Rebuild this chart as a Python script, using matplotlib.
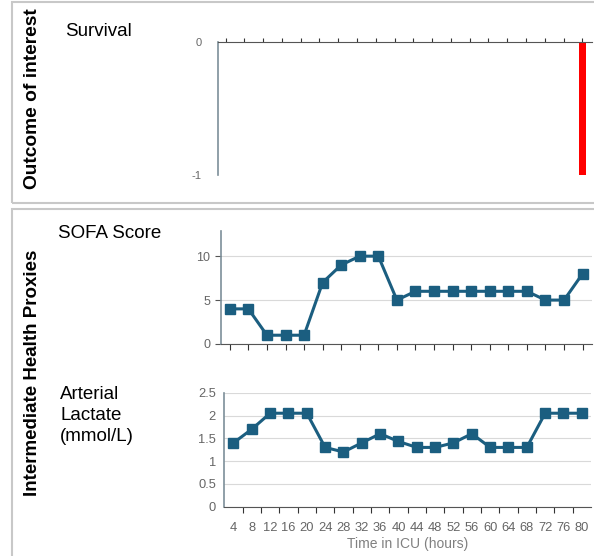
import matplotlib
matplotlib.use('Agg')
import matplotlib.pyplot as plt
from matplotlib.patches import Rectangle

plt.rcParams['font.family'] = ['Liberation Sans', 'DejaVu Sans']

hours = [4, 8, 12, 16, 20, 24, 28, 32, 36, 40, 44, 48, 52, 56, 60, 64, 68, 72, 76, 80]
survival = [0, 0, 0, 0, 0, 0, 0, 0, 0, 0, 0, 0, 0, 0, 0, 0, 0, 0, 0, -1]
sofa = [4, 4, 1, 1, 1, 7, 9, 10, 10, 5, 6, 6, 6, 6, 6, 6, 6, 5, 5, 8]
lactate = [1.4, 1.7, 2.05, 2.05, 2.05, 1.3, 1.2, 1.4, 1.6, 1.43,
           1.3, 1.3, 1.4, 1.6, 1.3, 1.3, 1.3, 2.05, 2.05, 2.05]

W, H = 594, 556
LINE = '#1b5e80'
GRID = '#d9d9d9'
TICK = '#666666'
SPINE_L = '#7d8f99'


def box(left, top, right, bottom):
    """pixel box -> figure fraction rect"""
    return [left / W, 1 - bottom / H, (right - left) / W, (bottom - top) / H]


fig = plt.figure(figsize=(W / 100, H / 100), dpi=100)

# panel frames
fig.patches.append(Rectangle((12 / W, 1 - 202.7 / H), 1.2, (200.7) / H,
                             transform=fig.transFigure, fill=False,
                             edgecolor='#c8c8c8', linewidth=1.5, clip_on=False))
fig.patches.append(Rectangle((12 / W, -0.05), 1.2, 1 - 208.7 / H + 0.05,
                             transform=fig.transFigure, fill=False,
                             edgecolor='#c8c8c8', linewidth=1.5, clip_on=False))

xs = list(range(len(hours)))

# survival
ax1 = fig.add_axes(box(218, 42, 591.7, 175))
ax1.bar(xs, survival, width=0.37, color='#ff0000', zorder=2)
ax1.set_xlim(-0.4, 19.5)
ax1.set_ylim(-1, 0)
ax1.set_yticks([0, -1])
ax1.set_yticklabels(['0', '-1'])
ax1.xaxis.tick_top()
ax1.set_xticks(xs)
ax1.set_xticklabels([])
ax1.tick_params(axis='x', length=3, color='#333333', width=0.8)
ax1.tick_params(axis='y', length=0, labelsize=8, labelcolor=TICK, pad=12)
ax1.spines['bottom'].set_visible(False)
ax1.spines['right'].set_visible(False)
ax1.spines['top'].set_color('#555555')
ax1.spines['left'].set_color(SPINE_L)
ax1.spines['left'].set_linewidth(1.2)

# SOFA
ax2 = fig.add_axes(box(220.7, 230.7, 591.7, 344))
ax2.plot(xs, sofa, color=LINE, linewidth=2.2, marker='s', markersize=7, zorder=3)
ax2.set_xlim(-0.49, 19.49)
ax2.set_ylim(0, 12.9)
ax2.set_yticks([0, 5, 10])
ax2.set_xticks(xs)
ax2.set_xticklabels([])
ax2.grid(axis='y', color=GRID, linewidth=0.8)
ax2.set_axisbelow(True)
ax2.tick_params(axis='x', length=4, color='#333333', width=0.8)
ax2.tick_params(axis='y', length=4, color='#555555', labelsize=9, labelcolor=TICK)
ax2.spines['top'].set_visible(False)
ax2.spines['right'].set_visible(False)
ax2.spines['bottom'].set_color('#555555')
ax2.spines['left'].set_color(SPINE_L)
ax2.spines['left'].set_linewidth(1.2)

# lactate
ax3 = fig.add_axes(box(224.3, 392.7, 591, 506.7))
ax3.plot(xs, lactate, color=LINE, linewidth=2.2, marker='s', markersize=7, zorder=3)
ax3.set_xlim(-0.5, 19.5)
ax3.set_ylim(0, 2.5)
ax3.set_yticks([0, 0.5, 1, 1.5, 2, 2.5])
ax3.set_yticklabels(['0', '0.5', '1', '1.5', '2', '2.5'])
ax3.set_xticks(xs)
ax3.set_xticklabels([str(h) for h in hours])
ax3.set_xticks([x + 0.5 for x in xs[:-1]], minor=True)
ax3.grid(axis='y', color=GRID, linewidth=0.8)
ax3.set_axisbelow(True)
ax3.tick_params(axis='x', which='major', length=0, pad=11, labelsize=9.3, labelcolor=TICK)
ax3.tick_params(axis='x', which='minor', length=4, color='#333333', width=0.8)
ax3.tick_params(axis='y', length=0, labelsize=9.3, labelcolor=TICK, pad=6)
ax3.set_xlabel('Time in ICU (hours)', fontsize=10, color='#808080', labelpad=2)
ax3.spines['top'].set_visible(False)
ax3.spines['right'].set_visible(False)
ax3.spines['bottom'].set_color('#555555')
ax3.spines['left'].set_color(SPINE_L)
ax3.spines['left'].set_linewidth(1.2)

# labels
fig.text(65 / W, 1 - 32 / H, 'Survival', fontsize=13.5, va='center', ha='left')
fig.text(58 / W, 1 - 233 / H, 'SOFA Score', fontsize=13.5, va='center', ha='left')
fig.text(60 / W, 1 - 386 / H, 'Arterial\nLactate\n(mmol/L)', fontsize=13.5,
         va='top', ha='left', linespacing=1.3)
fig.text(33 / W, 1 - 99 / H, 'Outcome of interest', fontsize=13.8,
         fontweight='bold', rotation=90, va='center', ha='center')
fig.text(33 / W, 1 - 373 / H, 'Intermediate Health Proxies', fontsize=13.5,
         fontweight='bold', rotation=90, va='center', ha='center')

fig.savefig('out.png', dpi=100)
